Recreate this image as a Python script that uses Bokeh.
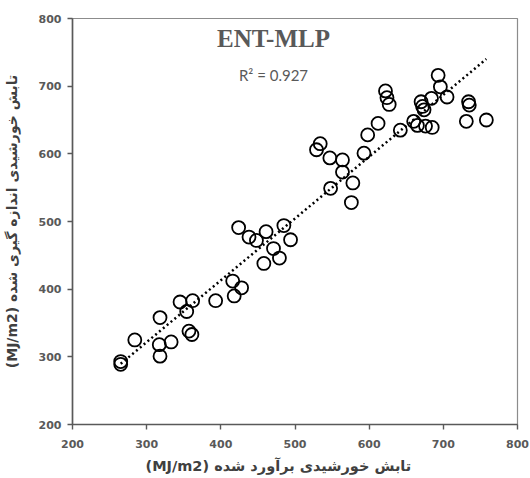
from bokeh.plotting import figure
from bokeh.models import Range1d, Label, FixedTicker, Title
from bokeh.embed import file_html
from bokeh.resources import INLINE
import numpy as np

# Estimated (x) vs measured (y) solar radiation, MJ/m2
estimated = [265, 265, 284, 318, 317, 318, 333, 345, 354, 362, 357, 361, 393, 418, 428, 416,
             424, 438, 448, 461, 485, 494, 471, 479, 458, 576, 529, 534, 547, 564, 564, 578,
             548, 593, 598, 612, 622, 624, 627, 642, 660, 665, 676, 685, 670, 672, 674, 684,
             693, 696, 705, 734, 735, 731, 758]
measured = [293, 289, 325, 358, 318, 301, 322, 381, 367, 383, 338, 333, 383, 390, 402, 412,
            491, 477, 472, 485, 494, 473, 460, 446, 438, 528, 606, 615, 594, 591, 573, 557,
            549, 601, 628, 645, 693, 683, 673, 635, 648, 642, 641, 639, 677, 670, 665, 682,
            716, 699, 684, 677, 672, 648, 650]
ticks = [200, 300, 400, 500, 600, 700, 800]
title_text = "ENT-MLP"
r2_text = "R\u00b2 = 0.927"
x_label = "(MJ/m2) تابش خورشیدی برآورد شده"
y_label = "(MJ/m2) تابش خورشیدی اندازه گیری شده"

grey = "#595959"
dark = "#404040"

p = figure(width=530, height=478, x_range=Range1d(200, 800), y_range=Range1d(200, 800),
           output_backend="svg", toolbar_location=None,
           min_border_left=70, min_border_right=13, min_border_top=18, min_border_bottom=0)
p.background_fill_color = "white"
p.border_fill_color = "white"
p.grid.visible = False
p.outline_line_color = "#8c8c8c"
p.outline_line_width = 1.2

for ax in (p.xaxis[0], p.yaxis[0]):
    ax.ticker = FixedTicker(ticks=ticks)
    ax.axis_line_color = grey
    ax.axis_line_width = 1.6
    ax.major_tick_line_color = grey
    ax.major_tick_line_width = 1.4
    ax.major_tick_out = 5
    ax.major_tick_in = 0
    ax.minor_tick_line_color = None
    ax.major_label_text_font = "DejaVu Sans"
    ax.major_label_text_font_style = "bold"
    ax.major_label_text_font_size = "11px"
    ax.major_label_text_color = grey
    ax.axis_label_text_font = "DejaVu Sans"
    ax.axis_label_text_font_style = "bold"
    ax.axis_label_text_font_size = "14px"
    ax.axis_label_text_color = dark

p.xaxis.major_label_standoff = 10
p.yaxis.major_label_standoff = 6
p.yaxis.axis_label = y_label
p.yaxis.axis_label_standoff = 16

# x-axis title below the axis, starting left of the frame centre as in the reference
xt = Title(text=x_label, align="left", offset=73, text_font="DejaVu Sans",
           text_font_style="bold", text_font_size="14.5px", text_color=dark,
           standoff=10)
p.add_layout(xt, "below")

# linear trend line fitted to the data
slope, intercept = np.polyfit(estimated, measured, 1)
lx = np.array([min(estimated), max(estimated)])
p.line(lx, slope * lx + intercept, line_color="black", line_width=2.5, line_dash="2 3")

p.scatter(estimated, measured, marker="circle", size=13, fill_color=None,
          line_color="black", line_width=1.8)

p.add_layout(Label(x=471, y=771, text=title_text, text_font="Liberation Serif",
                   text_font_style="bold", text_font_size="25px", text_color=grey,
                   text_align="center", text_baseline="middle"))
p.add_layout(Label(x=471, y=717, text=r2_text, text_font="Lato",
                   text_font_size="15px", text_color=grey,
                   text_align="center", text_baseline="middle"))

open("out.html", "w").write(file_html(p, INLINE))
